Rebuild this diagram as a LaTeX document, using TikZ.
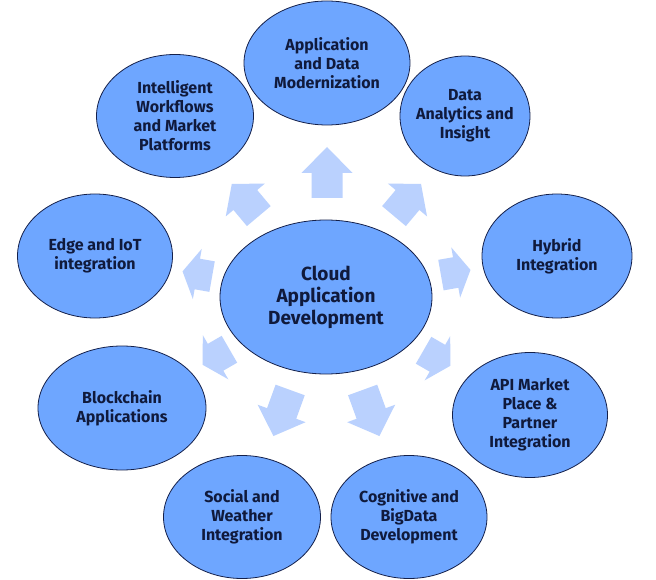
\documentclass[tikz,border=0pt]{standalone}
\usepackage{fontspec}
\setmainfont{Fira Sans}
\usetikzlibrary{shapes.geometric}
\definecolor{bubfill}{HTML}{6EA6FF}
\definecolor{bubline}{HTML}{14204A}
\definecolor{txt}{HTML}{101A3C}
\definecolor{arrfill}{HTML}{BAD1FE}
% #1 x, #2 y, #3 angle, #4 length, #5 head length
\newcommand\blockarr[5]{%
  \fill[arrfill, shift={(#1,#2)}, rotate=#3]
    ({-#4/2},-15.5) -- ({#4/2-#5},-15.5) -- ({#4/2-#5},-25.5) -- ({#4/2},0)
    -- ({#4/2-#5},25.5) -- ({#4/2-#5},15.5) -- ({-#4/2},15.5) -- cycle;}
\begin{document}
\begin{tikzpicture}[x=1pt,y=-1pt,
  bub/.style={ellipse, draw=bubline, line width=0.8pt, fill=bubfill, text=txt,
    font=\bfseries\fontsize{16}{19}\selectfont, align=center, inner sep=-14pt},
  hub/.style={bub, font=\bfseries\fontsize{19}{22}\selectfont}]
\fill[white] (0,0) rectangle (656,580);
\useasboundingbox (0,0) rectangle (656,580);

% arrows
\blockarr{327}{172.5}{90}{51}{26}
\blockarr{407.5}{200}{50}{42}{21}
\blockarr{455.7}{272.5}{10}{30}{15}
\blockarr{437}{358}{330}{31}{15}
\blockarr{371}{413}{290}{49}{24}
\blockarr{281.8}{413}{250}{49}{24}
\blockarr{216}{357}{210}{31}{15}
\blockarr{197.3}{274}{170}{30}{15}
\blockarr{245.3}{200}{130}{42}{21}

% center
\node[hub, minimum width=212pt, minimum height=154pt] (cloud) at (326,297)
  {Cloud\\Application\\Development};

% outer
\node[bub, minimum width=166pt, minimum height=124pt] (appdata) at (327,63)
  {Application\\and Data\\Modernization};
\node[bub, minimum width=130pt, minimum height=120pt] (analytics) at (465,116)
  {Data\\Analytics and\\Insight};
\node[bub, minimum width=150pt, minimum height=124pt] (hybrid) at (557,256)
  {Hybrid\\Integration};
\node[bub, minimum width=155pt, minimum height=125pt] (api) at (530,415)
  {API Market\\Place \&\\Partner\\Integration};
\node[bub, minimum width=156pt, minimum height=123pt] (cognitive) at (409,517)
  {Cognitive and\\BigData\\Development};
\node[bub, minimum width=157pt, minimum height=123pt] (social) at (242,517)
  {Social and\\Weather\\Integration};
\node[bub, minimum width=168pt, minimum height=124pt] (blockchain) at (122,408)
  {Blockchain\\Applications};
\node[bub, minimum width=155pt, minimum height=124pt] (edge) at (95,256)
  {Edge and IoT\\integration};
\node[bub, minimum width=157pt, minimum height=123pt] (workflows) at (175,116)
  {Intelligent\\Workflows\\and Market\\Platforms};
\end{tikzpicture}
\end{document}
